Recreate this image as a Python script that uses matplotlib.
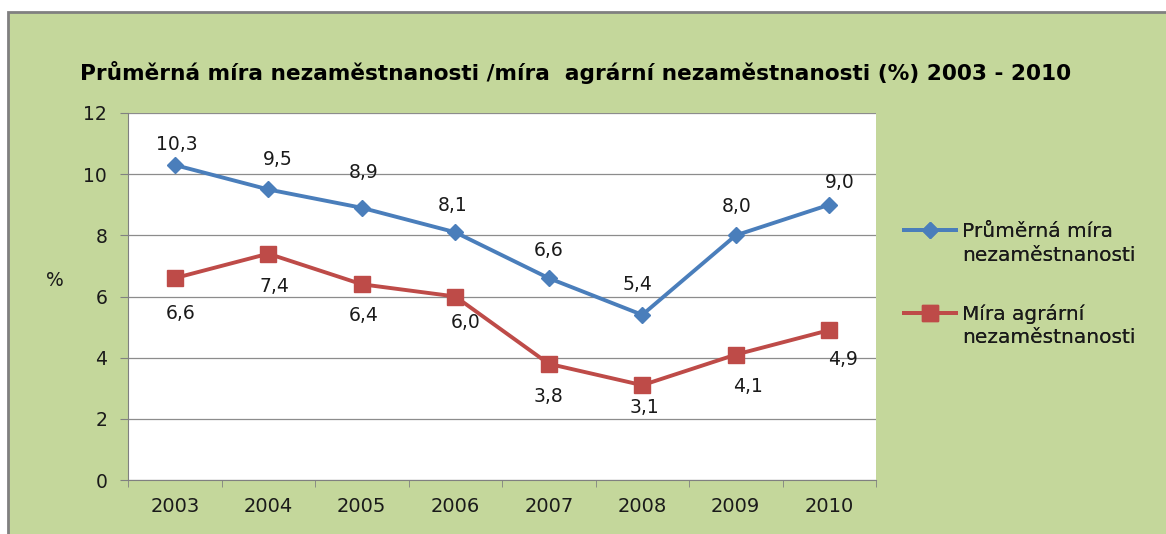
import matplotlib.pyplot as plt
from matplotlib.patches import Rectangle
from matplotlib.lines import Line2D

# data
years = ['2003', '2004', '2005', '2006', '2007', '2008', '2009', '2010']
prumerna = [10.3, 9.5, 8.9, 8.1, 6.6, 5.4, 8.0, 9.0]
agrarni = [6.6, 7.4, 6.4, 6.0, 3.8, 3.1, 4.1, 4.9]

# label offsets in pixels (moved by hand in the original)
off_p = [(2, 20), (10, 30), (2, 35), (-3, 27), (0, 28), (-5, 30), (1, 29), (10, 22)]
off_a = [(6, -35), (6, -33), (2, -31), (10, -26), (0, -33), (2, -22), (12, -32), (14, -29)]

plt.rcParams['font.family'] = ['DejaVu Sans']

green = '#C4D79B'
blue = '#4A7EBB'
red = '#BE4B48'
txt = '#1a1a1a'

fig = plt.figure(figsize=(11.66, 5.34), dpi=100)
fig.patch.set_facecolor('white')
# green chart area with gray border
fig.patches.append(Rectangle((8 / 1166, -0.05), 1.2, 1 - 12 / 534 + 0.05,
                             transform=fig.transFigure, facecolor=green,
                             edgecolor='#808080', linewidth=2, zorder=-5))

ax = fig.add_axes([128 / 1166, 1 - 480 / 534, 748 / 1166, 367 / 534])
ax.set_facecolor('white')

x = list(range(1, len(years) + 1))
ax.plot(x, prumerna, color=blue, lw=2.8, marker='D', ms=8.5, mfc=blue, mec=blue, zorder=3)
ax.plot(x, agrarni, color=red, lw=2.8, marker='s', ms=12, mfc=red, mec=red, zorder=3)

fmt = lambda v: f'{v:.1f}'.replace('.', ',')
px = 72 / 100
for vals, offs in [(prumerna, off_p), (agrarni, off_a)]:
    for i, v in enumerate(vals):
        ax.annotate(fmt(v), (x[i], v), xytext=(offs[i][0] * px, offs[i][1] * px),
                    textcoords='offset points', ha='center', va='center',
                    fontsize=13.5, color=txt)

ax.set_xlim(0.5, 8.5)
ax.set_ylim(0, 12)
ax.set_yticks(range(0, 13, 2))
ax.set_xticks(x)
ax.set_xticklabels(years)
ax.set_xticks([i + 0.5 for i in range(0, 9)], minor=True)
ax.tick_params(axis='x', which='major', length=0, pad=12, labelsize=14, labelcolor=txt)
ax.tick_params(axis='x', which='minor', length=5, color='#808080')
ax.tick_params(axis='y', length=6, color='#808080', pad=9, labelsize=13.5, labelcolor=txt)
ax.grid(axis='y', color='#8C8C8C', lw=0.9)
ax.set_axisbelow(True)
for s in ['top', 'right']:
    ax.spines[s].set_visible(False)
for s in ['left', 'bottom']:
    ax.spines[s].set_color('#808080')

fig.text(55 / 1166, 1 - 280 / 534, '%', ha='center', va='center', fontsize=13.5, color=txt)

fig.text(576 / 1166, 1 - 72 / 534,
         'Průměrná míra nezaměstnanosti /míra  agrární nezaměstnanosti (%) 2003 - 2010',
         ha='center', va='center', fontsize=15.6, fontweight='bold', color='black')

# legend: handle next to first line of each two-line label
blank = Line2D([], [], color='none')
h1 = Line2D([], [], color=blue, lw=2.8, marker='D', ms=8.5)
h2 = Line2D([], [], color=red, lw=2.8, marker='s', ms=12)
for h, l1, l2, yc in [(h1, 'Průměrná míra', 'nezaměstnanosti', 243.5),
                      (h2, 'Míra agrární', 'nezaměstnanosti', 325.5)]:
    leg = fig.legend([h, blank], [l1, l2], loc='center left',
                     bbox_to_anchor=(904 / 1166, 1 - yc / 534),
                     frameon=False, fontsize=14.5, handlelength=2.6,
                     labelspacing=0.2, handletextpad=0.3, borderpad=0,
                     borderaxespad=0)
    for t in leg.get_texts():
        t.set_color(txt)
    fig.add_artist(leg)

plt.savefig('out.png', dpi=100, facecolor=fig.get_facecolor())
